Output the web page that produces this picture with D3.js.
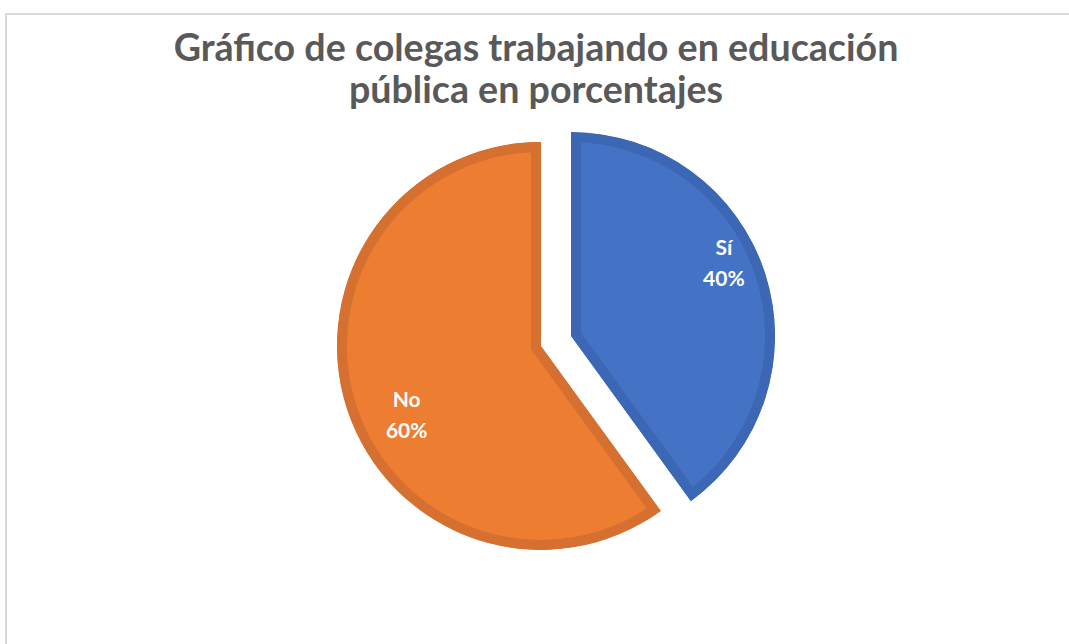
<!DOCTYPE html>
<html>
<head>
<meta charset="utf-8">
<script src="https://cdn.jsdelivr.net/npm/d3@7"></script>
<style>
  html, body { margin: 0; padding: 0; background: #fff; }
  svg { display: block; }
</style>
</head>
<body>
<svg id="chart" width="1069" height="644"></svg>
<script>
const titleLines = ["Gráfico de colegas trabajando en educación", "pública en porcentajes"];
const categories = ["Sí", "No"];
const values = [40, 60];
const fillColors = ["#4472C4", "#ED7D31"];
const strokeColors = ["#3C67B4", "#D57030"];

const W = 1069, H = 644;
const svg = d3.select("#chart");

// chart frame
svg.append("rect")
  .attr("x", 6).attr("y", 14)
  .attr("width", W).attr("height", H)
  .attr("fill", "#fff")
  .attr("stroke", "#D9D9D9").attr("stroke-width", 2);

// title
const fontFam = "Lato, 'Open Sans', sans-serif";
const titleWidths = [725, 377];
const titleBase = [61, 103];
const titleG = svg.append("g");
titleLines.forEach((t, i) => {
  titleG.append("text")
    .attr("x", 536).attr("y", titleBase[i])
    .attr("text-anchor", "middle")
    .attr("font-family", fontFam)
    .attr("font-weight", "bold")
    .attr("font-size", 30)
    .attr("fill", "#595959")
    .text(t);
});
{
  const first = titleG.select("text").node();
  const w = first.getComputedTextLength();
  const fs = 30 * titleWidths[0] / w;
  titleG.selectAll("text").attr("font-size", fs);
}

// pie
const cx = 556, cy = 341;
const R = 204;
const border = 10;
const explode = 15.8;
const data = categories.map((c, i) => ({ cat: c, val: values[i], i }));
const pie = d3.pie().sort(null).value(d => d.val).startAngle(0).endAngle(2 * Math.PI);
const arcs = pie(data);
const arcGen = d3.arc().innerRadius(0).outerRadius(R);

const total = d3.sum(values);
const labelRad = [0.83, 0.74];
const labelRot = [-0.13, -0.16];

const defs = svg.append("defs");
arcs.forEach((d, k) => {
  defs.append("clipPath").attr("id", "clip" + k)
    .append("path").attr("d", arcGen(d));
});

const g = svg.append("g").attr("transform", `translate(${cx},${cy})`);
const slices = g.selectAll("g.slice").data(arcs).enter().append("g")
  .attr("class", "slice")
  .attr("transform", d => {
    const a = (d.startAngle + d.endAngle) / 2;
    return `translate(${explode * Math.sin(a)},${-explode * Math.cos(a)})`;
  });

// inside-aligned border: stroke doubled and clipped to slice shape
slices.append("path")
  .attr("d", arcGen)
  .attr("clip-path", (d, k) => `url(#clip${k})`)
  .attr("fill", d => fillColors[d.data.i])
  .attr("stroke", d => strokeColors[d.data.i])
  .attr("stroke-width", border * 2)
  .attr("stroke-linejoin", "miter");

slices.each(function(d) {
  const a = (d.startAngle + d.endAngle) / 2 + labelRot[d.data.i];
  const r = R * labelRad[d.data.i];
  const x = r * Math.sin(a), y = -r * Math.cos(a);
  const t = d3.select(this).append("text")
    .attr("text-anchor", "middle")
    .attr("font-family", fontFam)
    .attr("font-weight", "bold")
    .attr("font-size", 21)
    .attr("fill", "#fff");
  t.append("tspan").attr("x", x).attr("y", y - 8).text(d.data.cat);
  t.append("tspan").attr("x", x).attr("y", y + 23)
    .text(d3.format(".0%")(d.data.val / total));
});
</script>
</body>
</html>
